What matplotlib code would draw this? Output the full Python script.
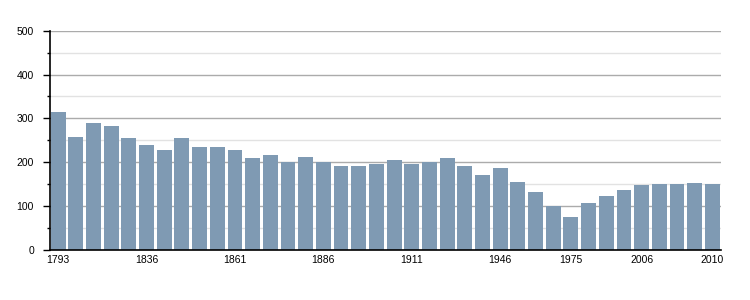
import matplotlib.pyplot as plt
from matplotlib.ticker import MultipleLocator

plt.rcParams["font.family"] = ["Liberation Sans", "DejaVu Sans"]

# annees de recensement et population
annees = [1793, 1800, 1806, 1821, 1831, 1836, 1841, 1846, 1851, 1856,
          1861, 1866, 1872, 1876, 1881, 1886, 1891, 1896, 1901, 1906,
          1911, 1921, 1926, 1931, 1936, 1946, 1954, 1962, 1968, 1975,
          1982, 1990, 1999, 2006, 2007, 2008, 2009, 2010]
population = [315, 258, 290, 283, 255, 239, 228, 255, 235, 235,
              228, 210, 217, 201, 212, 201, 191, 191, 196, 205,
              196, 201, 210, 191, 171, 187, 155, 132, 100, 75,
              107, 123, 137, 148, 150, 150, 153, 150]
annees_affichees = [1793, 1836, 1861, 1886, 1911, 1946, 1975, 2006, 2010]

x = list(range(len(annees)))

fig = plt.figure(figsize=(7.5, 3), dpi=100)
ax = fig.add_axes([50 / 750, 50 / 300, 670.5 / 750, 219.3 / 300])

ax.bar(x, population, width=0.84, color="#7f9ab3", zorder=3)

ax.set_ylim(0, 500)
ax.set_xlim(-0.46, len(annees) - 0.54)
ax.yaxis.set_major_locator(MultipleLocator(100))
ax.yaxis.set_minor_locator(MultipleLocator(50))
ax.grid(axis="y", which="major", color="#ababab", linewidth=1, zorder=1)
ax.grid(axis="y", which="minor", color="#e2e2e2", linewidth=1, zorder=1)

pos = [annees.index(a) for a in annees_affichees]
ax.set_xticks(pos)
ax.set_xticklabels([str(a) for a in annees_affichees])

ax.tick_params(axis="y", which="major", length=5, width=1, pad=6.5,
               labelsize=7.5, color="black")
ax.tick_params(axis="y", which="minor", length=2, width=1, color="black")
ax.tick_params(axis="x", length=0, pad=3.5, labelsize=7.5)

for s in ["top", "right"]:
    ax.spines[s].set_visible(False)
ax.spines["left"].set_linewidth(1.2)
ax.spines["bottom"].set_linewidth(1.2)
ax.spines["left"].set_zorder(4)
ax.spines["bottom"].set_zorder(4)

fig.savefig("out.png", dpi=100)
